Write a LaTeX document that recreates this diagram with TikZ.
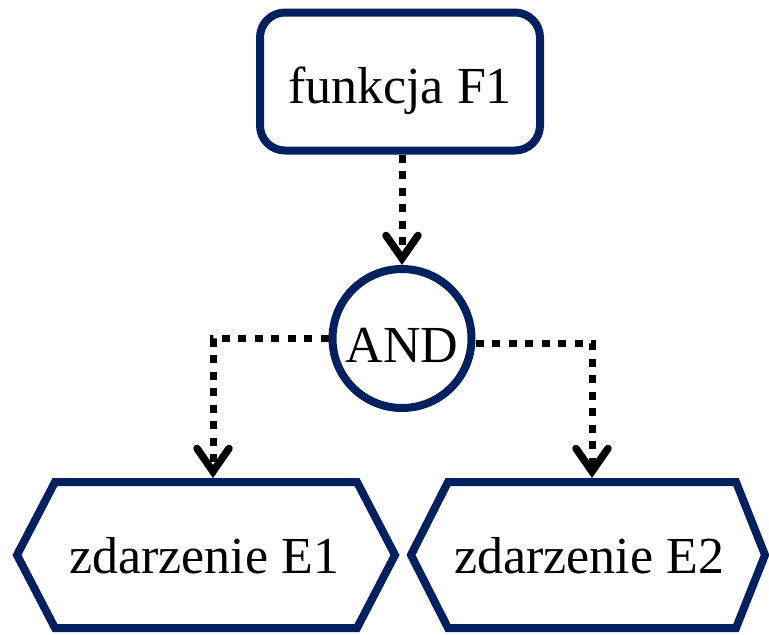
\documentclass[tikz,border=0pt]{standalone}
\usepackage{fontspec}
\setmainfont{Liberation Serif}
\usetikzlibrary{arrows.meta}
\definecolor{navy}{RGB}{0,32,96}
\tikzset{
  boxline/.style={draw=navy, line width=8pt},
  lbl/.style={font=\fontsize{52}{60}\selectfont, inner sep=0pt, text=black},
  conn/.style={black, line width=7pt, dash pattern=on 8pt off 8.5pt,
    -{Straight Barb[length=23pt,width=32pt,line width=7.5pt,line cap=round,line join=miter]}},
}
\begin{document}
\begin{tikzpicture}[x=1pt,y=-1pt]
\useasboundingbox (0,0) rectangle (769,635);
\node[boxline, lbl, rounded corners=25pt, minimum width=280pt, minimum height=138pt,
      text height=43pt, text depth=0pt] (f1) at (400,81.5) {funkcja F1};
\node[boxline, lbl, circle, minimum size=139pt, text height=47pt, text depth=0pt] (and) at (402,338.5) {AND};
\draw[boxline, line join=miter] (17,555) -- (55,482) -- (357,482) -- (395,555) -- (357,628) -- (55,628) -- cycle;
\draw[boxline, line join=miter] (411,555) -- (448,482) -- (736,482) -- (765,555) -- (736,628) -- (448,628) -- cycle;
\node[lbl, text height=36pt, text depth=0pt] (e1) at (204,555) {zdarzenie E1};
\node[lbl, text height=36pt, text depth=0pt] (e2) at (589,555) {zdarzenie E2};
\coordinate (e1in) at (213,478);
\coordinate (e2in) at (592,478);
\draw[conn] (f1.south -| and) -- (and.north);
\draw[conn] (and.west) -| (e1in);
\draw[conn] ([yshift=-4.5pt]and.east) -| (e2in);
\end{tikzpicture}
\end{document}
